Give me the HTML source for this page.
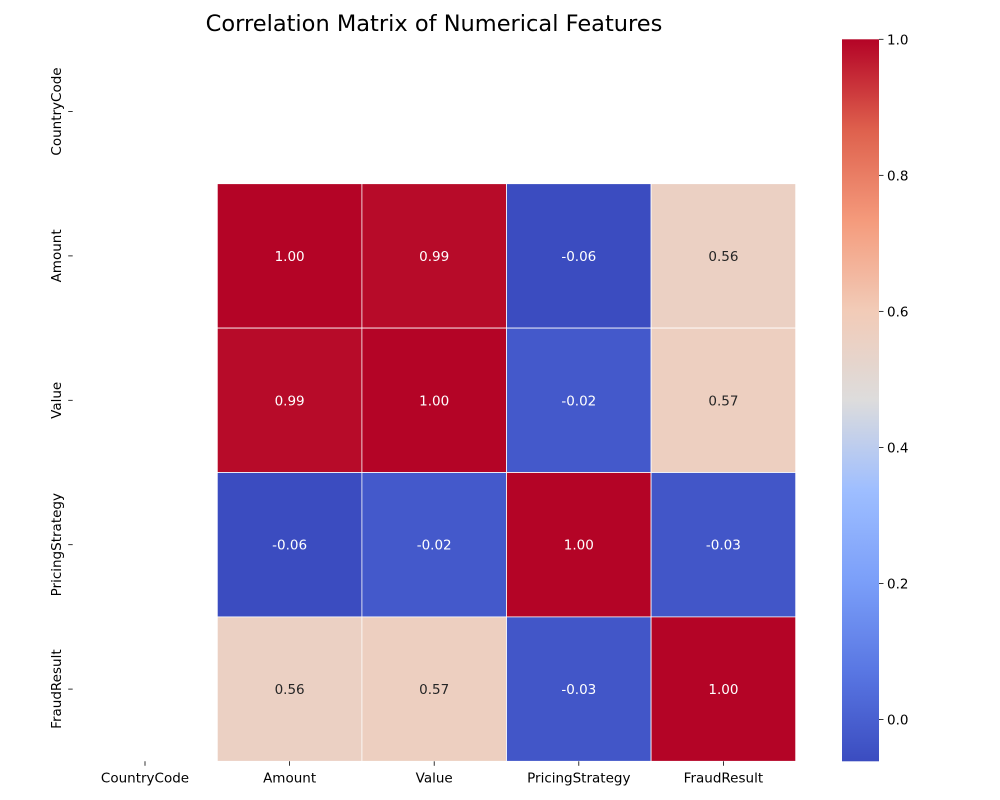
<!DOCTYPE html>
<html><head><meta charset="utf-8"><style>
body{margin:0;background:#fff;}
svg{display:block;font-family:"DejaVu Sans","Liberation Sans",sans-serif;}
</style></head><body>
<svg id="chart" width="1000" height="800"></svg>
<script>
const labels = ["CountryCode","Amount","Value","PricingStrategy","FraudResult"];
const matrix = [
  [null,null,null,null,null],
  [null,1.00,0.99,-0.06,0.56],
  [null,0.99,1.00,-0.02,0.57],
  [null,-0.06,-0.02,1.00,-0.03],
  [null,0.56,0.57,-0.03,1.00]
];
const cbTicks = [0.0,0.2,0.4,0.6,0.8,1.0];
const vmin = -0.0615, vmax = 1.0;

const NS="http://www.w3.org/2000/svg";
const svg=document.getElementById('chart');
function mk(t,a,p){const e=document.createElementNS(NS,t);for(const k in a)e.setAttribute(k,a[k]);(p||svg).appendChild(e);return e;}
const X0=72.7,Y0=39.3,CW=144.6,CH=144.4;
const xs=i=>X0+i*CW, ys=i=>Y0+i*CH;
const stops=[[0,[59,76,192]],[0.125,[89,119,227]],[0.25,[123,159,249]],[0.375,[158,190,255]],[0.5,[221,220,220]],[0.625,[242,203,183]],[0.75,[244,154,123]],[0.875,[222,96,77]],[1,[180,4,38]]];
function cmap(v){let t=(v-vmin)/(vmax-vmin);t=Math.max(0,Math.min(1,t));
 for(let i=1;i<stops.length;i++){if(t<=stops[i][0]){const a=stops[i-1],b=stops[i],f=(t-a[0])/(b[0]-a[0]);
 return 'rgb('+a[1].map((c,j)=>Math.round(c+(b[1][j]-c)*f)).join(',')+')';}}return 'rgb(180,4,38)';}

const title=mk('text',{x:434,y:31,'font-size':22.5,'text-anchor':'middle',fill:'#000'});
title.textContent='Correlation Matrix of Numerical Features';



for(let r=0;r<matrix.length;r++)for(let c=0;c<matrix[r].length;c++){
 const v=matrix[r][c]; if(v===null)continue;
 const rect=mk('rect',{x:xs(c),y:ys(r),width:CW,height:CH,fill:cmap(v),stroke:'#fff','stroke-width':0.8});
 
 
 const t=(v-vmin)/(vmax-vmin);
 const tx=mk('text',{x:xs(c)+CW/2,y:ys(r)+CH/2+5,'font-size':13.5,'text-anchor':'middle',fill:(t>0.2&&t<0.8)?'#262626':'#fff'});
 tx.textContent=v.toFixed(2);
 
 
}
labels.forEach((l,i)=>{
 const cx=xs(i)+CW/2, cy=ys(i)+CH/2, by=Y0+5*CH;
 mk('line',{x1:cx,x2:cx,y1:by,y2:by+4.5,stroke:'#000','stroke-width':0.8});
 const t=mk('text',{x:cx,y:by+21,'font-size':13.5,'text-anchor':'middle'});t.textContent=l;
 
 
 mk('line',{x1:X0-4.5,x2:X0,y1:cy,y2:cy,stroke:'#000','stroke-width':0.8});
 const u=mk('text',{x:0,y:0,'font-size':13.5,'text-anchor':'middle',transform:'translate(61,'+cy+') rotate(-90)'});u.textContent=l;
 
 
});

const CBX=842,CBW=37,CBT=39.3,CBB=761.3;
const cy=v=>CBB-(v-vmin)/(vmax-vmin)*(CBB-CBT);
const defs=mk('defs',{});const g=mk('linearGradient',{id:'cg',x1:0,y1:1,x2:0,y2:0},defs);
for(let i=0;i<=40;i++){mk('stop',{offset:i/40,'stop-color':cmap(vmin+(vmax-vmin)*i/40)},g);}
const cb=mk('rect',{x:CBX,y:CBT,width:CBW,height:CBB-CBT,fill:'url(#cg)'});


cbTicks.forEach(v=>{const y=cy(v);
 mk('line',{x1:CBX+CBW,x2:CBX+CBW+4.5,y1:y,y2:y,stroke:'#000','stroke-width':0.8});
 const t=mk('text',{x:CBX+CBW+8,y:y+5,'font-size':13.5});t.textContent=v.toFixed(1);
 
 
});
</script>
</body></html>
